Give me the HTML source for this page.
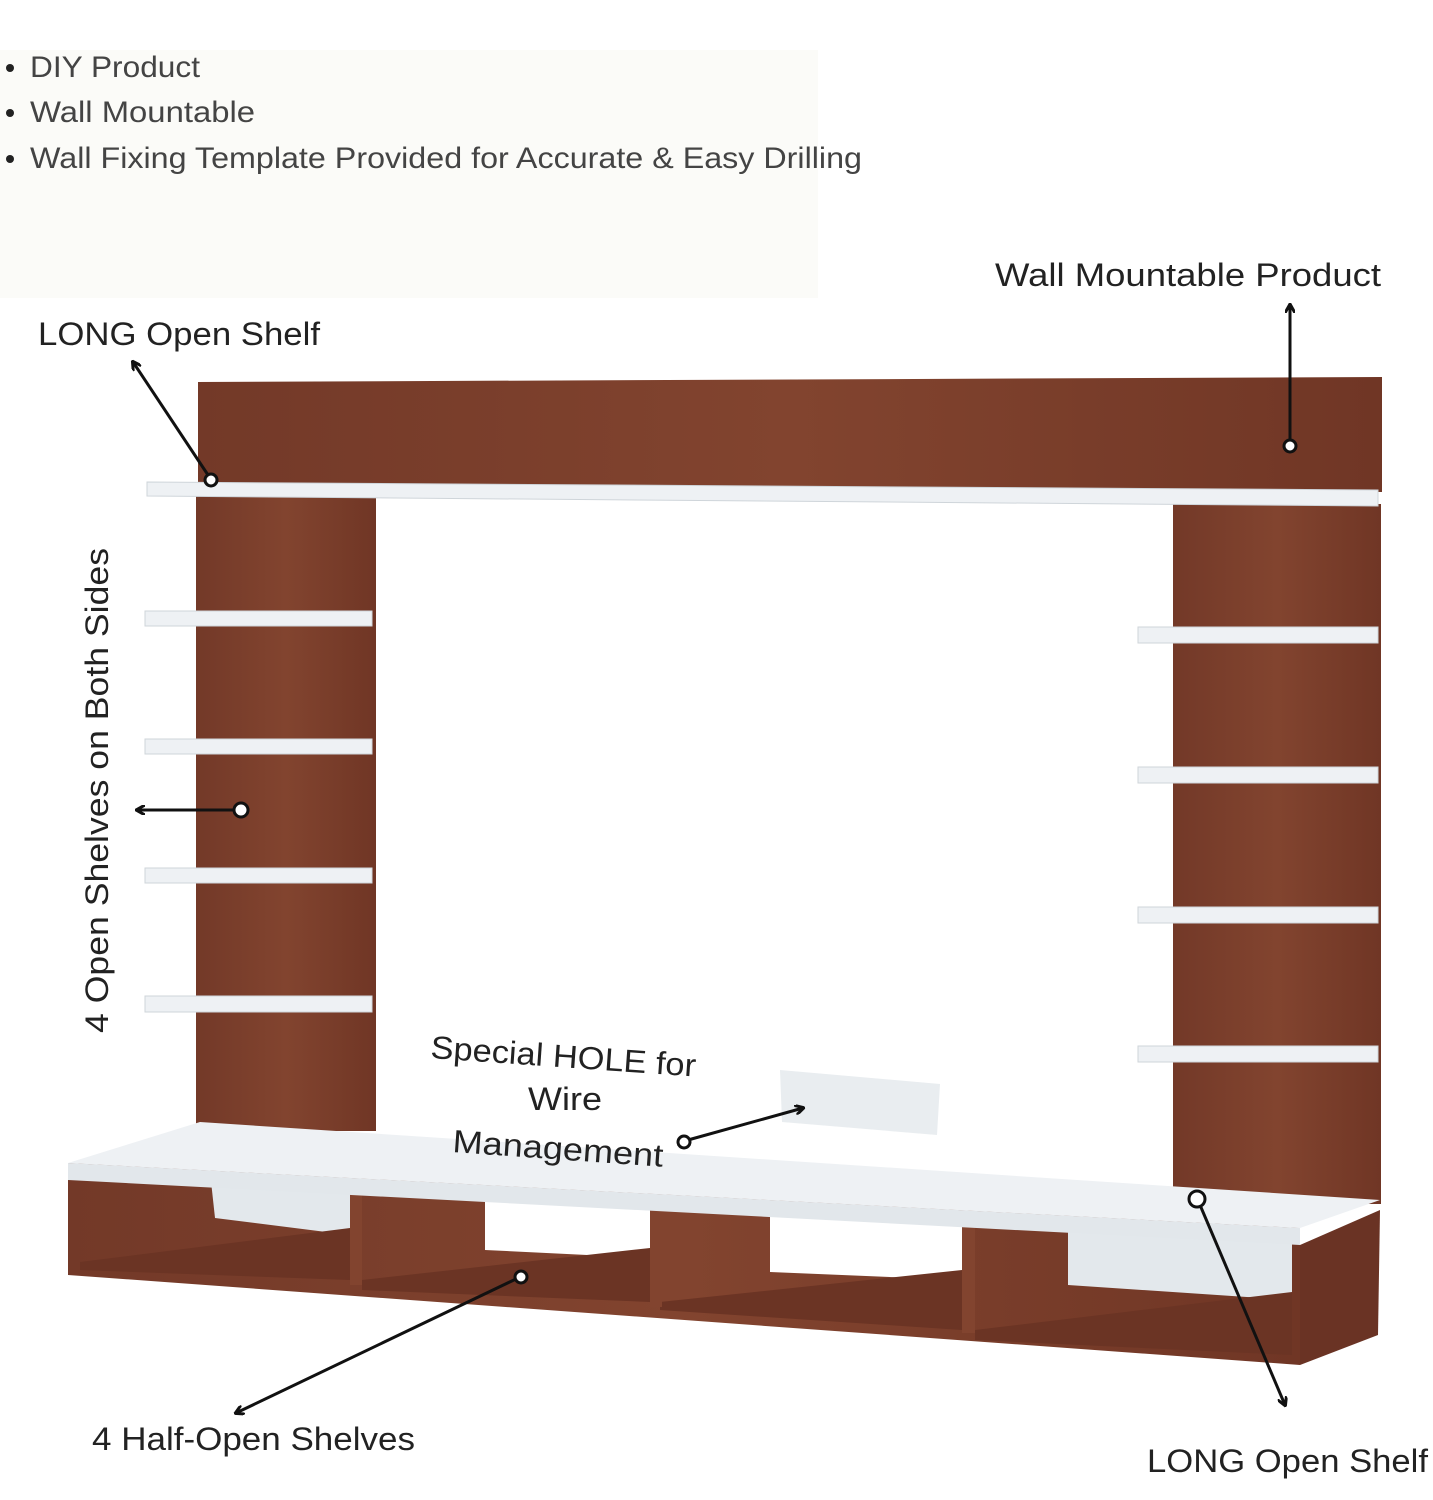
<!DOCTYPE html>
<html><head><meta charset="utf-8"><style>
html,body{margin:0;padding:0;background:#fff;}
svg{display:block;}
text{font-family:"Liberation Sans",sans-serif;}
</style></head><body>
<svg width="1433" height="1500" viewBox="0 0 1433 1500" xmlns="http://www.w3.org/2000/svg">
<defs>
<linearGradient id="wood" x1="0" x2="1" y1="0" y2="0">
<stop offset="0" stop-color="#733928"/><stop offset="0.5" stop-color="#82442f"/><stop offset="1" stop-color="#703625"/>
</linearGradient>
<marker id="ah" markerWidth="10" markerHeight="10" refX="8" refY="5" orient="auto" markerUnits="userSpaceOnUse">
<path d="M0,0 L9,5 L0,10" fill="none" stroke="#111" stroke-width="3"/>
</marker>
</defs>
<rect x="0" y="50" width="818" height="248" fill="#fbfbf8"/>
<g fill="#444" font-size="30">
<circle cx="10" cy="68" r="4" fill="#222"/><text x="30" y="77" textLength="170" lengthAdjust="spacingAndGlyphs">DIY Product</text>
<circle cx="10" cy="113" r="4" fill="#222"/><text x="30" y="122" textLength="225" lengthAdjust="spacingAndGlyphs">Wall Mountable</text>
<circle cx="10" cy="159" r="4" fill="#222"/><text x="30" y="168" textLength="832" lengthAdjust="spacingAndGlyphs">Wall Fixing Template Provided for Accurate &amp; Easy Drilling</text>
</g>
<!-- top panel -->
<polygon points="198,382 1382,377 1382,492 198,484" fill="url(#wood)"/>
<!-- columns -->
<rect x="196" y="496" width="180" height="635" fill="url(#wood)"/>
<rect x="1173" y="504" width="208" height="700" fill="url(#wood)"/>
<!-- long shelf -->
<polygon points="147,482 1378,490 1378,506 147,496" fill="#eef1f4" stroke="#cfd5da"/>
<g fill="#eef1f4" stroke="#cfd5da">
<rect x="145" y="611" width="227" height="15"/>
<rect x="145" y="739" width="227" height="15"/>
<rect x="145" y="868" width="227" height="15"/>
<rect x="145" y="996" width="227" height="16"/>
<rect x="1138" y="627" width="240" height="16"/>
<rect x="1138" y="767" width="240" height="16"/>
<rect x="1138" y="907" width="240" height="16"/>
<rect x="1138" y="1046" width="240" height="16"/>
</g>
<polygon points="780,1070 940,1084 937,1135 782,1122" fill="#e9edf0"/>
<!-- bottom unit -->
<polygon points="1300,1245 1380,1210 1378,1335 1300,1365" fill="#6a3324"/>
<polygon points="68,1163 1300,1228 1300,1365 68,1275" fill="url(#wood)"/>
<polygon points="210,1172 350,1180 350,1235 215,1218" fill="#e3e8ec"/>
<polygon points="485,1188 650,1198 650,1258 485,1250" fill="#fff"/>
<polygon points="770,1205 962,1216 962,1280 770,1272" fill="#fff"/>
<polygon points="1068,1225 1292,1238 1292,1300 1068,1285" fill="#e3e8ec"/>
<g fill="#6b3424">
<polygon points="80,1262 350,1228 350,1280 80,1270"/>
<polygon points="362,1280 650,1248 650,1302 362,1290"/>
<polygon points="660,1302 962,1270 962,1330 660,1310"/>
<polygon points="975,1330 1292,1292 1292,1355 975,1340"/>
</g>
<g fill="#82442f">
<rect x="350" y="1180" width="12" height="105"/>
<rect x="650" y="1197" width="12" height="110"/>
<rect x="962" y="1215" width="13" height="118"/>
</g>
<polygon points="68,1163 200,1122 1380,1200 1300,1228" fill="#eef1f4"/>
<polygon points="68,1163 1300,1228 1300,1245 68,1180" fill="#e2e7eb"/>
<!-- annotations -->
<g fill="#222" font-size="32">
<text x="38" y="345" textLength="282" lengthAdjust="spacingAndGlyphs">LONG Open Shelf</text>
<text x="995" y="286" textLength="386" lengthAdjust="spacingAndGlyphs">Wall Mountable Product</text>
<text x="430" y="1058" transform="rotate(4 430 1058)" textLength="266" lengthAdjust="spacingAndGlyphs">Special HOLE for</text>
<text x="528" y="1110" textLength="74" lengthAdjust="spacingAndGlyphs">Wire</text>
<text x="452" y="1152" transform="rotate(4 452 1152)" textLength="211" lengthAdjust="spacingAndGlyphs">Management</text>
<text x="92" y="1450" textLength="323" lengthAdjust="spacingAndGlyphs">4 Half-Open Shelves</text>
<text x="1147" y="1472" textLength="281" lengthAdjust="spacingAndGlyphs">LONG Open Shelf</text>
<text transform="translate(108,1033) rotate(-90)" textLength="485" lengthAdjust="spacingAndGlyphs">4 Open Shelves  on Both Sides</text>
</g>
<g stroke="#111" stroke-width="3" fill="none">
<line x1="210" y1="478" x2="133" y2="362" marker-end="url(#ah)"/>
<circle cx="211" cy="480" r="6" fill="#fff"/>
<line x1="1290" y1="444" x2="1290" y2="305" marker-end="url(#ah)"/>
<circle cx="1290" cy="446" r="6" fill="#fff"/>
<line x1="236" y1="810" x2="137" y2="810" marker-end="url(#ah)"/>
<circle cx="241" cy="810" r="7" fill="#fff"/>
<line x1="688" y1="1140" x2="803" y2="1108" marker-end="url(#ah)"/>
<circle cx="684" cy="1142" r="6" fill="#fff"/>
<line x1="518" y1="1278" x2="236" y2="1413" marker-end="url(#ah)"/>
<circle cx="521" cy="1277" r="6" fill="#fff"/>
<line x1="1200" y1="1205" x2="1285" y2="1405" marker-end="url(#ah)"/>
<circle cx="1197" cy="1199" r="8" fill="#fff"/>
</g>
</svg>
</body></html>
